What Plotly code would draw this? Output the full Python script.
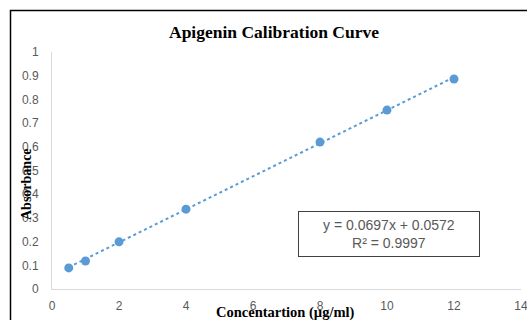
import plotly.graph_objects as go

conc = [0.5, 1, 2, 4, 8, 10, 12]
absorbance = [0.089, 0.118, 0.199, 0.337, 0.62, 0.755, 0.886]
slope = 0.0697
intercept = 0.0572
x_ticks = [0, 2, 4, 6, 8, 10, 12, 14]
y_ticks = [0, 0.1, 0.2, 0.3, 0.4, 0.5, 0.6, 0.7, 0.8, 0.9, 1]

trend_x = [min(conc), max(conc)]
trend_y = [slope * v + intercept for v in trend_x]

blue = "#5B9BD5"
gray = "#595959"

fig = go.Figure()
fig.add_trace(go.Scatter(x=trend_x, y=trend_y, mode="lines",
                         line=dict(color=blue, width=2, dash="dot"), hoverinfo="skip"))
fig.add_trace(go.Scatter(x=conc, y=absorbance, mode="markers",
                         marker=dict(color=blue, size=9)))

W, H = 527, 320
l, r, t, b = 52, 6, 52, 31
pw, ph = W - l - r, H - t - b

def px(xp):
    return (xp - l) / pw

def py(yp):
    return 1 - (yp - t) / ph

ann = dict(xref="paper", yref="paper", showarrow=False, xanchor="center", yanchor="middle")

fig.update_layout(
    width=W, height=H, showlegend=False,
    margin=dict(l=l, r=r, t=t, b=b, autoexpand=False),
    paper_bgcolor="white", plot_bgcolor="white",
    xaxis=dict(range=[0, 14], tickvals=x_ticks, showgrid=False, zeroline=False,
               showline=True, linecolor="#D9D9D9", linewidth=1, automargin=False,
               tickfont=dict(family="Liberation Sans", size=12, color=gray),
               ticks="", ticklabelstandoff=6, ticklabeloverflow="allow"),
    yaxis=dict(range=[0, 1], tickvals=y_ticks, showgrid=False, zeroline=False,
               showline=True, linecolor="#D9D9D9", linewidth=1, automargin=False,
               tickfont=dict(family="Liberation Sans", size=12, color=gray),
               ticks="", ticklabelstandoff=10, ticklabeloverflow="allow"),
    shapes=[dict(type="rect", xref="paper", yref="paper",
                 x0=px(10.5), x1=px(560), y0=py(360), y1=py(10.5),
                 line=dict(color="black", width=1.5), fillcolor="rgba(0,0,0,0)")],
    annotations=[
        dict(text="<b>Apigenin Calibration Curve</b>", x=px(274), y=py(32),
             font=dict(family="Liberation Serif", size=17.5, color="black"), **ann),
        dict(text="<b>Absorbance</b>", x=px(26), y=py(184), textangle=-90,
             font=dict(family="Liberation Serif", size=14, color="black"), **ann),
        dict(text="<b>Concentartion (µg/ml)</b>", x=px(285), y=py(312),
             font=dict(family="Liberation Serif", size=14.5, color="black"), **ann),
        dict(text="y = 0.0697x + 0.0572<br>R² = 0.9997", x=px(389), y=py(234),
             align="center", bordercolor="#404040", borderwidth=1, borderpad=4,
             bgcolor="white", width=172, height=36,
             font=dict(family="Liberation Sans", size=14, color=gray), **ann),
    ],
)

fig.write_html("out.html", config={"displayModeBar": False},
               post_script="document.body.style.margin='0';document.body.style.padding='0';")
